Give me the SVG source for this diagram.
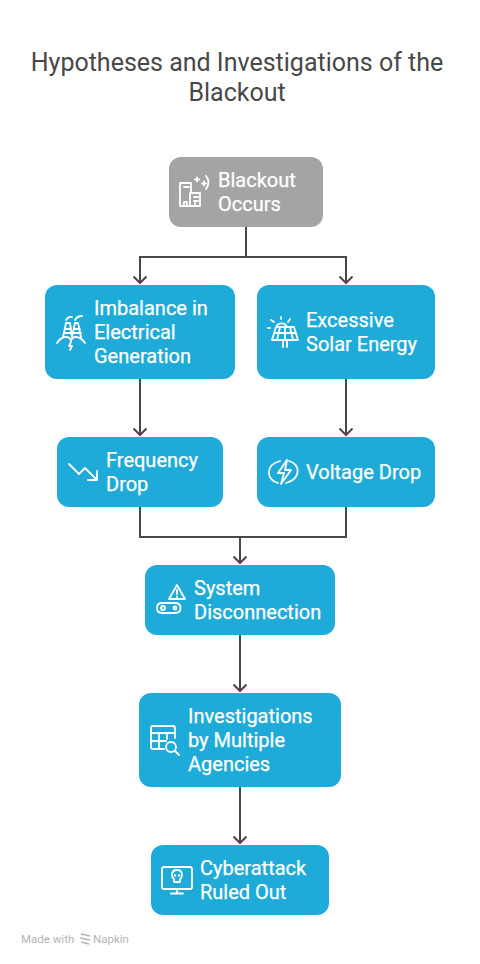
<svg xmlns="http://www.w3.org/2000/svg" width="480" height="964" viewBox="0 0 480 964">
<style>
.t{font-family:Roboto,"Liberation Sans",sans-serif;font-size:20px;fill:#fff;stroke:#fff;stroke-width:.25}
.title{font-family:Roboto,"Liberation Sans",sans-serif;font-size:25px;fill:#484848;text-anchor:middle}
.b{fill:#1eabda}
.g{fill:#a4a4a4}
.c{fill:none;stroke:#484848;stroke-width:2}
.i{fill:none;stroke:#fff;stroke-width:1.800;stroke-linecap:round;stroke-linejoin:round}
.f{font-family:Roboto,"Liberation Sans",sans-serif;font-size:11.500px;fill:#b4b4b4}
</style>
<rect width="480" height="964" fill="#fff"/>
<g id="title"><text class="title" x="237" y="71">Hypotheses and Investigations of the</text><text class="title" x="237" y="101">Blackout</text></g>
<g id="connectors">
<path class="c" d="M246 227V257M140 283V257H346V283"/>
<path class="c" d="M133.500 276.500L140 283L146.500 276.500M339.500 276.500L346 283L352.500 276.500"/>
<path class="c" d="M140 379V435M133.500 428.500L140 435L146.500 428.500"/>
<path class="c" d="M346 379V435M339.500 428.500L346 435L352.500 428.500"/>
<path class="c" d="M140 507V537H346V507M240 537V563M233.500 556.500L240 563L246.500 556.500"/>
<path class="c" d="M240 635V691M233.500 684.500L240 691L246.500 684.500"/>
<path class="c" d="M240 787V843M233.500 836.500L240 843L246.500 836.500"/>
</g>
<g id="n1"><rect class="g" x="169" y="157" width="154" height="70" rx="12"/>
<path class="i" d="M180 206V183H191V193M200 193H190V206H180M200 193V206H190M184 187H189M194 197H198M194 201H198M184 206V202H187V206M195 206V203M197 177.500V181.500M195 179.500H199M202 183.500H206M204 181.500V185.500M206 176Q211 182 206 189"/>
<text class="t" x="218" y="187">Blackout</text><text class="t" x="218" y="211">Occurs</text></g>
<g id="n2"><rect class="b" x="45" y="285" width="190" height="94" rx="12"/>
<path class="i" d="M57 343Q61 337 66 337Q70 337 71 341Q72 337 76 337Q81 337 85 343M63 337L66 323H70L72 337L75 323H78L81 337M65 329H71M74 329H80M64 333H71M73 333H81M66 320Q68 316 72 317M75 320Q77 316 82 316M71 342L69 346H72L70 350"/>
<text class="t" x="94" y="315">Imbalance in</text><text class="t" x="94" y="339">Electrical</text><text class="t" x="94" y="363">Generation</text></g>
<g id="n3"><rect class="b" x="257" y="285" width="178" height="94" rx="12"/>
<path class="i" d="M276 327L272 340H298L294 327H276ZM274.500 333H295.500M277 340L280 327M285 327V340M293 340L290 327M283 340V347M287 340V347M276 327A6 6 0 0 1 287 327M271 320L274 322M281 317V319M290 319L288 322M268 328H270"/>
<text class="t" x="306" y="327">Excessive</text><text class="t" x="306" y="351">Solar Energy</text></g>
<g id="n4"><rect class="b" x="57" y="437" width="166" height="70" rx="12"/>
<path class="i" d="M69 464L79 474L85 468L97 480M97 471V480H88"/>
<text class="t" x="106" y="467">Frequency</text><text class="t" x="106" y="491">Drop</text></g>
<g id="n5"><rect class="b" x="257" y="437" width="178" height="70" rx="12"/>
<path class="i" d="M278 483C266 480 265 465 280 461M289 461C301 464 301 479 286 483M287 460L278 473H284L281 484L291 470H285L287 460Z"/>
<text class="t" x="306" y="479">Voltage Drop</text></g>
<g id="n6"><rect class="b" x="145" y="565" width="190" height="70" rx="12"/>
<path class="i" d="M177 585L169 599H185L177 585ZM177 590V594M177 596.500V597M162 603H175Q180.500 603 180.500 608Q180.500 613 175 613H162Q157 613 157 608Q157 603 162 603Z"/>
<circle class="i" cx="163" cy="608" r="2"/><circle class="i" cx="175" cy="608" r="1.500"/>
<text class="t" x="194" y="595">System</text><text class="t" x="194" y="619">Disconnection</text></g>
<g id="n7"><rect class="b" x="139" y="693" width="202" height="94" rx="12"/>
<path class="i" d="M164 749H153Q151 749 151 747V728Q151 726 153 726H173Q175 726 175 728V738M151 733H175M151 741H166M159 733V749M167 733V739"/>
<circle class="i" cx="171" cy="747" r="5"/><path class="i" d="M175 751L179 755"/>
<text class="t" x="188" y="723">Investigations</text><text class="t" x="188" y="747">by Multiple</text><text class="t" x="188" y="771">Agencies</text></g>
<g id="n8"><rect class="b" x="151" y="845" width="178" height="70" rx="12"/>
<path class="i" d="M164 867H190Q192 867 192 869V887Q192 889 190 889H164Q162 889 162 887V869Q162 867 164 867ZM177 889V893M171 893.500H183M172 875Q172 870 177 870Q182 870 182 875Q182 878 180 879V882H174V879Q172 878 172 875Z"/>
<circle cx="175" cy="875.500" r="1.200" fill="#fff"/><circle cx="179" cy="875.500" r="1.200" fill="#fff"/>
<text class="t" x="200" y="875">Cyberattack</text><text class="t" x="200" y="899">Ruled Out</text></g>
<g id="footer"><text class="f" x="21" y="943">Made with</text>
<path d="M81 934L90 936M80 938L90 940M81 942L89 944" fill="none" stroke="#b4b4b4" stroke-width="1.500"/>
<text class="f" x="93" y="943">Napkin</text></g>
</svg>
